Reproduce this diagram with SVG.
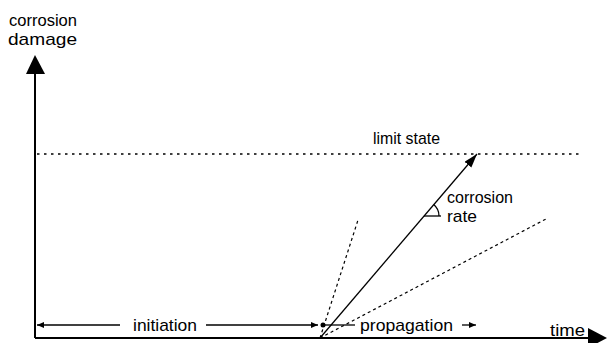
<svg xmlns="http://www.w3.org/2000/svg" width="608" height="343" viewBox="0 0 608 343">
<style>
text{font-family:"Liberation Sans",Arial,sans-serif;font-size:17px;fill:#000}
.ax{stroke:#000;stroke-width:2;fill:none}
.ln{stroke:#000;stroke-width:1.3;fill:none}
.dash{stroke:#000;stroke-width:1.2;stroke-dasharray:3,3;fill:none}
.dot{stroke:#000;stroke-width:1.5;stroke-dasharray:2.5,4.5;fill:none}
</style>
<defs>
<marker id="sm" markerUnits="userSpaceOnUse" markerWidth="8" markerHeight="7" refX="7" refY="3" orient="auto-start-reverse">
<path d="M0,0 L7,3 L0,6 z" fill="#000"/>
</marker>
<marker id="big" markerUnits="userSpaceOnUse" markerWidth="15" markerHeight="10" refX="14" refY="4.5" orient="auto">
<path d="M0,0 L14,4.5 L0,9 z" fill="#000"/>
</marker>
</defs>
<rect width="608" height="343" fill="#fff"/>
<g id="axes">
<line class="ax" x1="35" y1="338" x2="35" y2="72"/>
<polygon points="35,55 26,74 45,74" fill="#000"/>
<line class="ax" x1="35" y1="338" x2="590" y2="338"/>
<polygon points="607,338 588,328 588,348" fill="#000"/>
</g>
<g id="limit-state">
<line class="dot" x1="37" y1="154" x2="580" y2="154"/>
<text x="373" y="144" textLength="67" lengthAdjust="spacingAndGlyphs">limit state</text>
</g>
<g id="connectors">
<line class="dash" x1="320" y1="338" x2="358" y2="220"/>
<line class="dash" x1="320" y1="338" x2="546" y2="219"/>
<line class="ln" x1="320" y1="338" x2="477" y2="154" marker-end="url(#big)"/>
<line class="ln" x1="424" y1="216" x2="441" y2="216"/>
<path class="ln" d="M433.7,204.6 A15,15 0 0 1 439,216"/>
</g>
<g id="dimensions">
<line class="ln" x1="37" y1="325" x2="120" y2="325" marker-start="url(#sm)"/>
<line class="ln" x1="206" y1="325" x2="318" y2="325" marker-end="url(#sm)"/>
<circle cx="323" cy="325" r="2.5" fill="#000"/>
<line class="ln" x1="323" y1="325" x2="355" y2="325"/>
<line class="ln" x1="462" y1="325" x2="476" y2="325" marker-end="url(#sm)"/>
</g>
<g id="labels">
<text x="9" y="26" textLength="68" lengthAdjust="spacingAndGlyphs">corrosion</text>
<text x="8" y="45" textLength="69" lengthAdjust="spacingAndGlyphs">damage</text>
<text x="133" y="331" textLength="64" lengthAdjust="spacingAndGlyphs">initiation</text>
<text x="360" y="331" textLength="93" lengthAdjust="spacingAndGlyphs">propagation</text>
<text x="550" y="336" textLength="35" lengthAdjust="spacingAndGlyphs">time</text>
<text x="447" y="203" font-size="18" textLength="66" lengthAdjust="spacingAndGlyphs">corrosion</text>
<text x="447" y="222" font-size="18" textLength="30" lengthAdjust="spacingAndGlyphs">rate</text>
</g>
</svg>
